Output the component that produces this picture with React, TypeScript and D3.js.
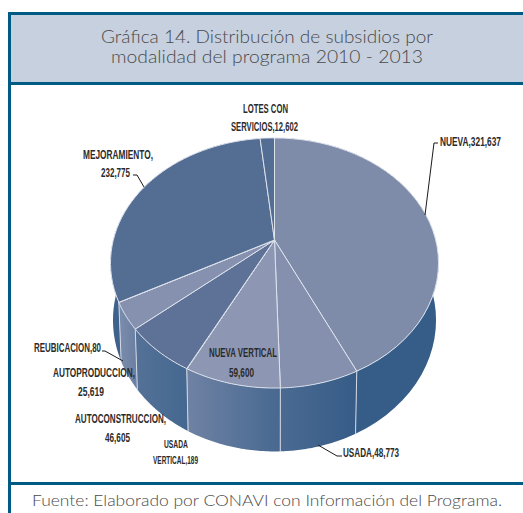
import React from "react";
import * as d3 from "d3";

// --- data ---
const categories = ["NUEVA", "USADA", "NUEVA VERTICAL", "USADA VERTICAL", "AUTOCONSTRUCCION", "AUTOPRODUCCION", "REUBICACION", "MEJORAMIENTO", "LOTES CON SERVICIOS"];
const values = [321637, 48773, 59600, 189, 46605, 25619, 80, 232775, 12602];
const topColors = ["#7e8ba9", "#8490ad", "#8d97b4", "#8d97b4", "#5e7297", "#8591af", "#8591af", "#546d93", "#546d93"];
const sideLeft = ["#355d88", "#4a6a92", "#6f82a4", "#6f82a4", "#557197", "#7b8dac", "#7b8dac", "#3f628c", "#3f628c"];
const sideRight = ["#355d88", "#365c87", "#476890", "#476890", "#446890", "#6c80a3", "#6c80a3", "#3f628c", "#3f628c"];
const titleLines = ["Gráfica 14. Distribución de subsidios por", "modalidad del programa 2010 - 2013"];
const sourceText = "Fuente: Elaborado por CONAVI con Información del Programa.";

// --- label layout: text, centre x, baseline y, width, font size ---
const labelRows: [string, number, number, number, number][] = [
  ["LOTES CON", 265.5, 112.5, 45, 12.5],
  ["SERVICIOS,12,602", 264.5, 130.5, 67, 12.5],
  ["NUEVA,321,637", 470.5, 145.5, 61, 12.5],
  ["MEJORAMIENTO,", 118, 158.5, 70, 12.5],
  ["232,775", 115.5, 176.5, 29, 12.5],
  ["REUBICACION,80", 67.5, 351.5, 67, 12.5],
  ["AUTOPRODUCCION,", 94, 376.5, 82, 12.5],
  ["25,619", 91, 395.5, 26, 12.5],
  ["AUTOCONSTRUCCION,", 120.5, 422.5, 91, 12.5],
  ["46,605", 117.5, 441.5, 25, 12.5],
  ["USADA", 176, 447.5, 24, 10.5],
  ["VERTICAL,189", 175.5, 463.5, 45, 10.5],
  ["USADA,48,773", 371, 456.5, 56, 12.5],
  ["NUEVA VERTICAL", 243, 356.5, 68, 12.5],
  ["59,600", 241.5, 376.5, 25, 12.5],
];
const leaderRows: [number, number][][] = [
  [[425, 215], [434, 143], [438, 143]],
  [[144, 187], [137, 175], [133, 175]],
  [[102, 351], [105, 351], [123, 361]],
  [[318, 445], [337, 456], [342, 456]],
];

// --- projective model of the tilted disc ---
const cx = 274.5;
const apexY = 240;
const k = -0.184;
const A = 161.2;
const B = 120.8;
const project = (a: number, drop: number, sx: number, sy: number): [number, number] => {
  const u = Math.sin(a), v = -Math.cos(a), w = 1 + k * v;
  return [cx + (sx * A * u) / w, apexY + drop + (sy * B * v) / w];
};
const topRim = (a: number) => project(a, 0, 1, 1);
const baseRim = (a: number) => project(a, 56, 0.985, 1.05);

const pieGen = d3.pie<number>().sort(null).value((d) => d);
const arcs = pieGen(values);
const line = d3.line();
const sample = (a0: number, a1: number) =>
  d3.range(0, 41).map((i) => a0 + ((a1 - a0) * i) / 40);

export default function App() {
  const vis = arcs.map((s, i) => ({ s, i }));
  const side = [...vis].sort(
    (p, q) =>
      Math.abs(Math.PI - (q.s.startAngle + q.s.endAngle) / 2) -
      Math.abs(Math.PI - (p.s.startAngle + p.s.endAngle) / 2)
  );
  return (
    <svg
      width={523}
      height={513}
      style={{ position: "absolute", left: 0, top: 0, background: "#fff" }}
    >
      <defs>
        {arcs.map((s, i) => {
          const xs = sample(s.startAngle, s.endAngle).map((a) => topRim(a)[0]);
          const lo = Math.min(...xs), hi = Math.max(...xs);
          return (
            <linearGradient key={i} id={`g${i}`} gradientUnits="userSpaceOnUse" x1={lo} x2={hi + 0.01} y1={0} y2={0}>
              <stop offset="0" stopColor={sideLeft[i]} />
              <stop offset="1" stopColor={sideRight[i]} />
            </linearGradient>
          );
        })}
      </defs>

      {/* frame */}
      <rect x={9.5} y={13.5} width={514} height={70} fill="#c6d0df" />
      <rect x={8} y={12} width={515} height={3} fill="#005b84" />
      <rect x={8} y={82} width={515} height={3} fill="#005b84" />
      <rect x={8} y={482} width={515} height={3} fill="#005b84" />
      <rect x={8} y={12} width={3} height={501} fill="#005b84" />

      {/* side wall */}
      <g>
        {side.map(({ s, i }) => {
          const as = sample(s.startAngle, s.endAngle);
          const pts = [...as.map(topRim), ...[...as].reverse().map(baseRim)];
          return <path key={i} d={line(pts) + "Z"} fill={`url(#g${i})`} aria-label={categories[i]} />;
        })}
        {arcs
          .filter((s) => s.startAngle > Math.PI / 2 && s.startAngle < 1.5 * Math.PI + 0.2 && s.endAngle - s.startAngle > 0.02)
          .map((s, i) => (
            <path
              key={i}
              d={line([topRim(s.startAngle), baseRim(s.startAngle)]) as string}
              stroke="#d3d9e5"
              strokeWidth={1}
              fill="none"
            />
          ))}
      </g>

      {/* top face */}
      <g>
        {arcs.map((s, i) => {
          const pts = [[cx, apexY] as [number, number], ...sample(s.startAngle, s.endAngle).map(topRim)];
          return (
            <path
              key={i}
              d={line(pts) + "Z"}
              fill={topColors[i]}
              stroke="#dde2ec"
              strokeWidth={1}
              strokeLinejoin="round"
            >
              <title>{categories[i]}</title>
            </path>
          );
        })}
      </g>

      {/* leaders */}
      {leaderRows.map((l, i) => (
        <path key={i} d={line(l) as string} fill="none" stroke="#1a1a1a" strokeWidth={1} />
      ))}

      {/* labels */}
      <g fontFamily="'Liberation Sans Narrow', 'Liberation Sans', sans-serif" fontWeight={700} fill="#2b2b2b" textAnchor="middle">
        {labelRows.map(([t, x, y, w, fs]) => (
          <text key={t} x={x} y={y} fontSize={fs} textLength={w} lengthAdjust="spacingAndGlyphs">
            {t}
          </text>
        ))}
      </g>

      {/* title and source */}
      <g fontFamily="'Lato', 'DejaVu Sans', sans-serif" fontWeight={300} fill="#4a4a4a" textAnchor="middle">
        <text x={267} y={43} fontSize={17} textLength={332} lengthAdjust="spacingAndGlyphs">{titleLines[0]}</text>
        <text x={267} y={63} fontSize={17} textLength={312} lengthAdjust="spacingAndGlyphs">{titleLines[1]}</text>
        <text x={267} y={506} fontSize={15} textLength={470} lengthAdjust="spacingAndGlyphs">{sourceText}</text>
      </g>
    </svg>
  );
}
